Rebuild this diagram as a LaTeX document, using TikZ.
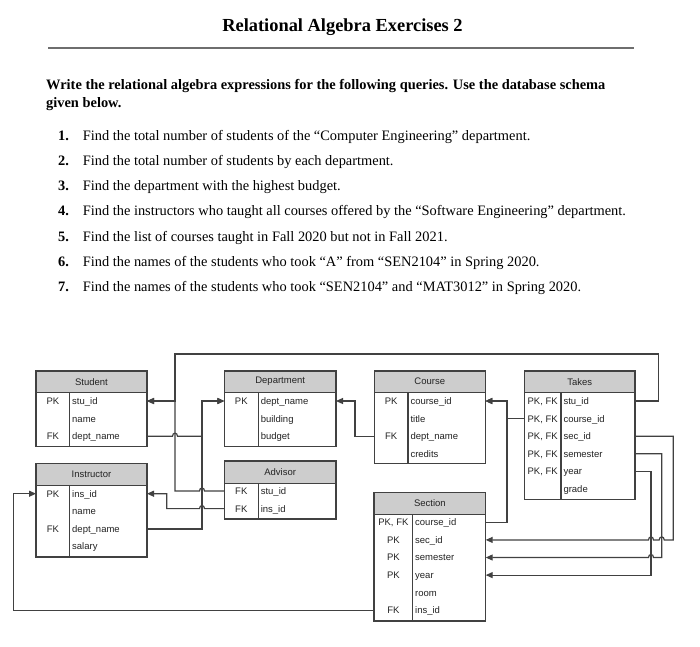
\documentclass[tikz,border=0pt]{standalone}
\usepackage{fontspec}
\setmainfont{Liberation Serif}
\newfontfamily\erfont{Liberation Sans}
\usetikzlibrary{arrows.meta}
\definecolor{linegray}{RGB}{65,65,65}
\definecolor{hdrgray}{RGB}{205,205,205}
\definecolor{rulegray}{RGB}{110,110,110}
\definecolor{txtgray}{RGB}{35,35,35}
\newcommand\ertab[8]{% name,title,left,div,right,top,headerbottom,bottom
  \node[hdrbox, minimum width={(#5-#3)*1pt}, minimum height={(#7-#6)*1pt}] (#1) at (#3,#6) {#2};
  \node[bodybox, minimum width={(#5-#3)*1pt}, minimum height={(#8-#7)*1pt}] (#1-body) at (#3,#7) {};
  \draw[tabline] (#4,#7) -- (#4,#8);
}
\newcommand\errow[7]{% name,key,field,left,div,right,y
  \node[keycell] (#1-k) at ({(#4+#5)/2},#7) {#2};
  \node[fieldcell] (#1) at (#5,#7) {#3};
}
\begin{document}
\begin{tikzpicture}[x=1pt,y=-1pt,
  erfnt/.style={font=\erfont\fontsize{9.5}{11}\selectfont, text=txtgray},
  hdrbox/.style={erfnt, draw=linegray, fill=hdrgray, line width=1.2pt, anchor=north west, inner sep=0pt, outer sep=0pt},
  bodybox/.style={draw=linegray, line width=1.2pt, anchor=north west, inner sep=0pt, outer sep=0pt},
  tabline/.style={draw=linegray, line width=1.2pt},
  keycell/.style={erfnt, inner sep=0pt, outer sep=0pt, text height=6.8pt, text depth=0pt},
  fieldcell/.style={erfnt, anchor=west, inner xsep=2.5pt, inner ysep=0pt, outer sep=0pt, text height=6.8pt, text depth=0pt},
  conn/.style={draw=linegray, line width=1.2pt},
  arr/.style={conn, -{Triangle[length=7pt,width=6pt]}},
  itemnum/.style={anchor=base west, inner sep=0pt, font=\bfseries\fontsize{14.4}{17}\selectfont},
  itemtext/.style={anchor=base west, inner sep=0pt, font=\fontsize{14.4}{17}\selectfont},
]
\useasboundingbox[fill=white] (0,0) rectangle (700,646);

% heading
\node[anchor=base, inner sep=0pt, font=\bfseries\fontsize{18.4}{22}\selectfont] (title) at (342.5,31) {Relational Algebra Exercises 2};
\draw[rulegray, line width=1.8pt] (48,48) -- (634,48);
\node[anchor=base west, inner sep=0pt, font=\bfseries\fontsize{14.4}{17}\selectfont] (intro1) at (46,89) {Write the relational algebra expressions for the following queries. Use the database schema};
\node[anchor=base west, inner sep=0pt, font=\bfseries\fontsize{14.4}{17}\selectfont] (intro2) at (46,107.5) {given below.};

\node[itemnum] (n1) at (58,140) {1.};
\node[itemtext] (q1) at (82.6,140) {Find the total number of students of the “Computer Engineering” department.};
\node[itemnum] (n2) at (58,165.2) {2.};
\node[itemtext] (q2) at (82.6,165.2) {Find the total number of students by each department.};
\node[itemnum] (n3) at (58,190.6) {3.};
\node[itemtext] (q3) at (82.6,190.6) {Find the department with the highest budget.};
\node[itemnum] (n4) at (58,215.8) {4.};
\node[itemtext] (q4) at (82.6,215.8) {Find the instructors who taught all courses offered by the “Software Engineering” department.};
\node[itemnum] (n5) at (58,241) {5.};
\node[itemtext] (q5) at (82.6,241) {Find the list of courses taught in Fall 2020 but not in Fall 2021.};
\node[itemnum] (n6) at (58,266.2) {6.};
\node[itemtext] (q6) at (82.6,266.2) {Find the names of the students who took “A” from “SEN2104” in Spring 2020.};
\node[itemnum] (n7) at (58,291.4) {7.};
\node[itemtext] (q7) at (82.6,291.4) {Find the names of the students who took “SEN2104” and “MAT3012” in Spring 2020.};

% tables
\ertab{student}{Student}{36}{69.7}{147}{371}{392.3}{446.3}
\errow{student-stuid}{PK}{stu\_id}{36}{69.7}{147}{401}
\errow{student-name}{}{name}{36}{69.7}{147}{418.6}
\errow{student-dept}{FK}{dept\_name}{36}{69.7}{147}{436.2}

\ertab{dept}{Department}{224.3}{258.3}{336}{371}{392.3}{446.3}
\errow{dept-name}{PK}{dept\_name}{224.3}{258.3}{336}{401}
\errow{dept-building}{}{building}{224.3}{258.3}{336}{418.6}
\errow{dept-budget}{}{budget}{224.3}{258.3}{336}{436.2}

\ertab{course}{Course}{374.3}{408}{485.3}{371}{392.3}{463.7}
\errow{course-id}{PK}{course\_id}{374.3}{408}{485.3}{401}
\errow{course-title}{}{title}{374.3}{408}{485.3}{418.6}
\errow{course-dept}{FK}{dept\_name}{374.3}{408}{485.3}{436.2}
\errow{course-credits}{}{credits}{374.3}{408}{485.3}{453.8}

\ertab{takes}{Takes}{524.3}{561}{635}{371}{392.7}{499.3}
\errow{takes-stu}{PK, FK}{stu\_id}{524.3}{561}{635}{401}
\errow{takes-course}{PK, FK}{course\_id}{524.3}{561}{635}{418.6}
\errow{takes-sec}{PK, FK}{sec\_id}{524.3}{561}{635}{436.2}
\errow{takes-sem}{PK, FK}{semester}{524.3}{561}{635}{453.8}
\errow{takes-year}{PK, FK}{year}{524.3}{561}{635}{471.4}
\errow{takes-grade}{}{grade}{524.3}{561}{635}{489}

\ertab{ins}{Instructor}{36}{69.7}{147}{463.3}{485.7}{557}
\errow{ins-id}{PK}{ins\_id}{36}{69.7}{147}{493.7}
\errow{ins-name}{}{name}{36}{69.7}{147}{511.3}
\errow{ins-dept}{FK}{dept\_name}{36}{69.7}{147}{528.9}
\errow{ins-salary}{}{salary}{36}{69.7}{147}{546.5}

\ertab{adv}{Advisor}{224.3}{258.3}{336}{461}{483.3}{519}
\errow{adv-stu}{FK}{stu\_id}{224.3}{258.3}{336}{491}
\errow{adv-ins}{FK}{ins\_id}{224.3}{258.3}{336}{508.6}

\ertab{sec}{Section}{374}{412.7}{485.7}{492.7}{514.3}{621}
\errow{sec-course}{PK, FK}{course\_id}{374}{412.7}{485.7}{522.3}
\errow{sec-id}{PK}{sec\_id}{374}{412.7}{485.7}{539.9}
\errow{sec-sem}{PK}{semester}{374}{412.7}{485.7}{557.5}
\errow{sec-year}{PK}{year}{374}{412.7}{485.7}{575.1}
\errow{sec-room}{}{room}{374}{412.7}{485.7}{592.7}
\errow{sec-ins}{FK}{ins\_id}{374}{412.7}{485.7}{610.3}

% connectors
\draw[arr] (takes-stu -| takes-body.east) -- ++(23.3,0) |- (175,354) |- (student-stuid -| student-body.east);
\draw[arr] (adv-stu -| adv-body.west) -- (204.5,491) .. controls (204.5,487) and (199.5,487) .. (199.5,491) -- (175,491) |- (student-stuid -| student-body.east);
\draw[arr] (student-dept -| student-body.east) -- (172.5,436.2) .. controls (172.5,432.2) and (177.5,432.2) .. (177.5,436.2) -- (202,436.2) |- (dept-name -| dept-body.west);
\draw[arr] (ins-dept -| ins-body.east) -| (202,401) -- (dept-name -| dept-body.west);
\draw[arr] (adv-ins -| adv-body.west) -- (204.5,508.6) .. controls (204.5,504.6) and (199.5,504.6) .. (199.5,508.6) -- (166.7,508.6) |- (ins-id -| ins-body.east);
\draw[arr] (course-dept -| course-body.west) -- (355,436.2) |- (dept-name -| dept-body.east);
\draw[arr] (sec-course -| sec-body.east) -| (507,401) -- (course-id -| course-body.east);
\draw[arr] (takes-course -| takes-body.west) -- (507,418.6) |- (course-id -| course-body.east);
\draw[arr] (takes-sec -| takes-body.east) -| (673.3,539.9) -- (664.2,539.9) .. controls (664.2,535.9) and (659.2,535.9) .. (659.2,539.9) -- (653.5,539.9) .. controls (653.5,535.9) and (648.5,535.9) .. (648.5,539.9) -- (sec-id -| sec-body.east);
\draw[arr] (takes-sem -| takes-body.east) -| (661.7,557.5) -- (653.5,557.5) .. controls (653.5,553.5) and (648.5,553.5) .. (648.5,557.5) -- (sec-sem -| sec-body.east);
\draw[arr] (takes-year -| takes-body.east) -| (651,575.1) -- (sec-year -| sec-body.east);
\draw[arr] (sec-ins -| sec-body.west) -| (13.3,493.7) -- (ins-id -| ins-body.west);
\end{tikzpicture}
\end{document}
